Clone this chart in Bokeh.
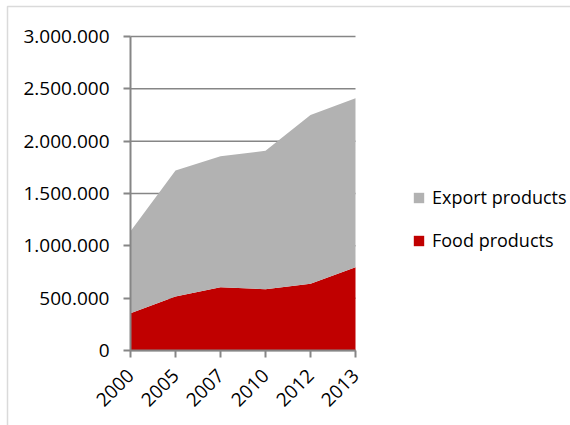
import math
from bokeh.plotting import figure
from bokeh.models import (FixedTicker, Legend, LegendItem, Label, Range1d, BoxAnnotation)
from bokeh.embed import file_html
from bokeh.resources import INLINE

years = ["2000", "2005", "2007", "2010", "2012", "2013"]
food_products = [357000, 516000, 605000, 586000, 637000, 796000]
export_products = [783000, 1204000, 1251000, 1322000, 1613000, 1614000]
y_ticks = [0, 500000, 1000000, 1500000, 2000000, 2500000, 3000000]
y_tick_labels = ["0", "500.000", "1.000.000", "1.500.000", "2.000.000", "2.500.000", "3.000.000"]
title_text = "Export products and food products (ha)"

FONT = "Open Sans"
GRAY = "#868686"
W, H = 570, 425
# frame fills the whole canvas; plot region: x 130..355 px, y 36..350 px
PX0, PX1, PY0, PY1 = 130, 355, 350, 36
n = len(years)
ymax = y_ticks[-1]
xs = (n - 1) / (PX1 - PX0)
ys = ymax / (PY0 - PY1)

x = list(range(n))
data = dict(x=x, food=food_products, export=export_products)

p = figure(width=W, height=H, output_backend="svg", toolbar_location=None,
           x_range=Range1d(-PX0 * xs, (W - PX0) * xs),
           y_range=Range1d(-(H - PY0) * ys, PY0 * ys),
           min_border=0, min_border_left=0, min_border_right=0, min_border_top=0, min_border_bottom=0)
p.outline_line_color = None
p.background_fill_color = "white"
p.xgrid.grid_line_color = None
p.ygrid.grid_line_color = None

# horizontal gridlines spanning the category extent
p.segment(x0=[0] * len(y_ticks), x1=[n - 1] * len(y_ticks), y0=y_ticks, y1=y_ticks,
          line_color=GRAY, line_width=1.5)

rs = p.varea_stack(stackers=["food", "export"], x="x", color=["#C00000", "#B2B2B2"], source=data)

p.yaxis.ticker = FixedTicker(ticks=y_ticks)
p.yaxis.major_label_overrides = {t: l for t, l in zip(y_ticks, y_tick_labels)}
p.yaxis.fixed_location = 0
p.yaxis.bounds = (0, ymax)
p.xaxis.ticker = FixedTicker(ticks=x)
p.xaxis.major_label_overrides = {i: y for i, y in zip(x, years)}
p.xaxis.major_label_orientation = math.pi / 4
p.xaxis.fixed_location = 0
p.xaxis.bounds = (0, n - 1)

for ax in (p.xaxis, p.yaxis):
    ax.axis_line_color = GRAY
    ax.axis_line_width = 2
    ax.major_tick_line_color = GRAY
    ax.major_tick_line_width = 2
    ax.major_tick_in = 0
    ax.major_tick_out = 7
    ax.minor_tick_line_color = None
    ax.major_label_text_font = FONT
    ax.major_label_text_font_size = "19px"
    ax.major_label_text_color = "#000000"
p.yaxis.major_label_standoff = 14
p.xaxis.major_label_standoff = 15

legend = Legend(items=[LegendItem(label="Export products", renderers=[rs[1]]),
                       LegendItem(label="Food products", renderers=[rs[0]])],
                location=(412, 173), orientation="vertical",
                border_line_alpha=0, background_fill_alpha=0, padding=0, margin=0,
                glyph_width=13, glyph_height=13, label_standoff=7, label_height=13, spacing=19,
                label_text_font=FONT, label_text_font_size="18px", label_text_color="#000000")
p.add_layout(legend, "center")

border = BoxAnnotation(left=7, right=W + 30, top=H - 6, bottom=-30,
                       left_units="screen", right_units="screen", top_units="screen", bottom_units="screen",
                       fill_alpha=0, line_color=GRAY, line_width=1.5)
p.add_layout(border)

title = Label(x=288, y=H + 13, x_units="screen", y_units="screen", text=title_text,
              text_font=FONT, text_font_style="bold", text_font_size="19px",
              text_align="center", text_baseline="alphabetic", text_color="#000000")
p.add_layout(title)

open("out.html", "w").write(file_html(p, INLINE))
